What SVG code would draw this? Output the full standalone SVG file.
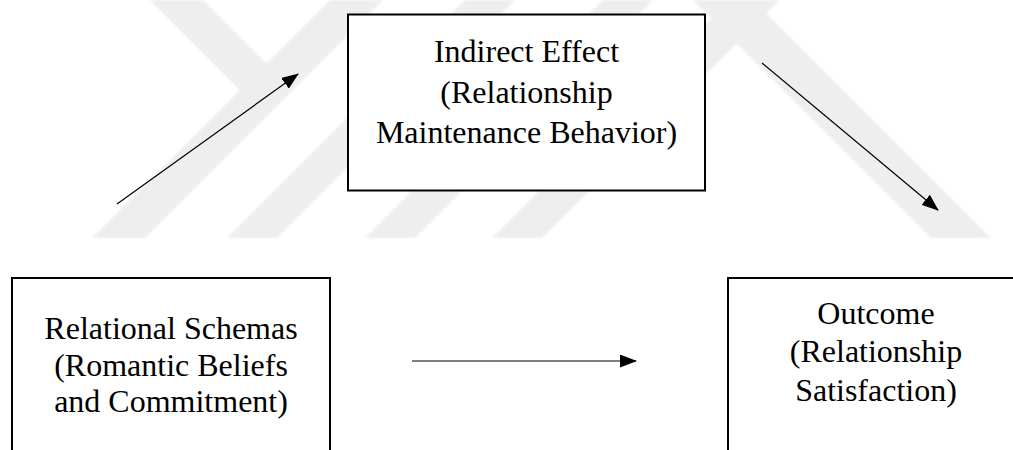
<svg xmlns="http://www.w3.org/2000/svg" width="1013" height="450" viewBox="0 0 1013 450">
  <style>
    .mark { fill: #eeeeee; }
    .box { fill: #ffffff; stroke: #000000; stroke-width: 2; }
    .label { font-family: "Liberation Serif", "Times New Roman", serif; font-size: 32px; fill: #000000; text-anchor: middle; }
    .edge { stroke: #000000; stroke-width: 1.2; fill: none; marker-end: url(#head); }
  </style>
  <defs>
    <marker id="head" viewBox="0 0 17 13" refX="16" refY="6.5" markerWidth="17" markerHeight="13" markerUnits="userSpaceOnUse" orient="auto">
      <path d="M0,0 L17,6.5 L0,13 Z" fill="#000000"/>
    </marker>
    <filter id="soft" x="-5%" y="-5%" width="110%" height="110%">
      <feGaussianBlur stdDeviation="0.8"/>
    </filter>
  </defs>

  <rect width="1013" height="450" fill="#ffffff"/>

  <!-- faint background emblem: diagonal bands -->
  <g id="emblem" filter="url(#soft)">
    <polygon class="mark" points="92,238 145,238 383,0 330,0"/>
    <polygon class="mark" points="150,0 203,0 293,90 240,90"/>
    <polygon class="mark" points="227,238 277,238 515,0 465,0"/>
    <polygon class="mark" points="365,238 415,238 653,0 603,0"/>
    <polygon class="mark" points="492,238 542,238 780,0 730,0"/>
    <polygon class="mark" points="693,0 753,0 991,238 931,238"/>
  </g>

  <g id="connectors">
    <line class="edge" x1="117" y1="204" x2="298" y2="74"/>
    <line class="edge" x1="762" y1="63" x2="938" y2="210"/>
    <line class="edge" x1="412" y1="361" x2="636" y2="361"/>
  </g>

  <g id="indirect-effect">
    <rect class="box" x="348" y="14.5" width="357" height="176"/>
    <text class="label" x="526.5" y="62">Indirect Effect</text>
    <text class="label" x="526.5" y="102.5">(Relationship</text>
    <text class="label" x="526.5" y="143">Maintenance Behavior)</text>
  </g>

  <g id="relational-schemas">
    <rect class="box" x="12" y="278" width="318" height="200"/>
    <text class="label" x="171" y="339">Relational Schemas</text>
    <text class="label" x="171" y="375.5">(Romantic Beliefs</text>
    <text class="label" x="171" y="412">and Commitment)</text>
  </g>

  <g id="outcome">
    <rect class="box" x="728" y="278" width="400" height="200"/>
    <text class="label" x="876" y="324">Outcome</text>
    <text class="label" x="876" y="362">(Relationship</text>
    <text class="label" x="876" y="401">Satisfaction)</text>
  </g>
</svg>
